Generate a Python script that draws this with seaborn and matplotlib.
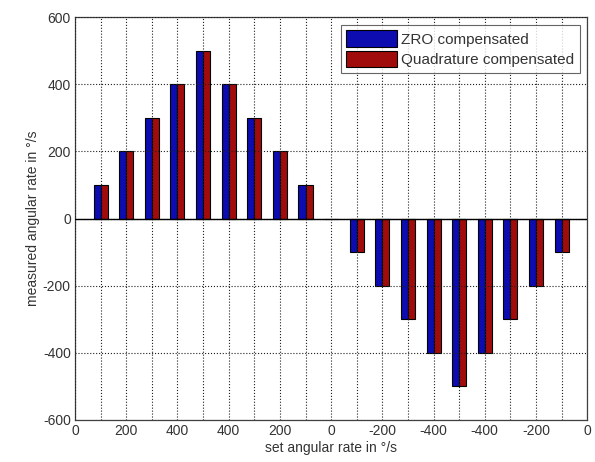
import matplotlib
matplotlib.use("Agg")
import matplotlib.pyplot as plt
import seaborn as sns
import pandas as pd

# set angular rate for each measurement step (deg/s)
set_rates = [100, 200, 300, 400, 500, 400, 300, 200, 100, 0,
             -100, -200, -300, -400, -500, -400, -300, -200, -100]
zro_comp = [100, 200, 300, 400, 500, 400, 300, 200, 100, 0,
            -100, -200, -300, -400, -500, -400, -300, -200, -100]
quad_comp = [100, 200, 300, 400, 500, 400, 300, 200, 100, 0,
             -100, -200, -300, -400, -500, -400, -300, -200, -100]
series_names = ["ZRO compensated", "Quadrature compensated"]
tick_labels = ["0", "200", "400", "400", "200", "0", "-200", "-400", "-400", "-200", "0"]

steps = list(range(1, len(set_rates) + 1))
df = pd.DataFrame({
    "step": steps * 2,
    "rate": zro_comp + quad_comp,
    "series": [series_names[0]] * len(steps) + [series_names[1]] * len(steps),
})

sns.set_style("white")
plt.rcParams["font.family"] = ["Liberation Sans", "DejaVu Sans"]
plt.rcParams["axes.unicode_minus"] = False

fig = plt.figure(figsize=(5.95, 4.62), dpi=100)
ax = fig.add_axes([0.126, 0.091, 0.861, 0.872])

sns.barplot(data=df, x="step", y="rate", hue="series", order=steps,
            palette=["#0c0cb0", "#a00c0c"], saturation=1, width=0.55,
            edgecolor="black", linewidth=0.8, ax=ax, zorder=2)

# categorical positions are step-1, so shift axis to keep step numbers
ax.set_xlim(-1, len(steps))
ax.set_xticks(range(-1, len(steps) + 1))
labels = []
for i in range(len(steps) + 2):
    labels.append(tick_labels[i // 2] if i % 2 == 0 else "")
ax.set_xticklabels(labels)
ax.set_ylim(-600, 600)
ax.set_yticks(range(-600, 601, 200))

# matlab style: dotted grid drawn over the bars
ax.set_axisbelow(False)
ax.grid(True, linestyle=":", color="#202020", linewidth=0.8, zorder=3)
ax.axhline(0, color="black", linewidth=1.0, zorder=4)
for s in ax.spines.values():
    s.set_color("#404040")
    s.set_linewidth(0.9)

ax.tick_params(axis="both", labelsize=10, labelcolor="#333333", length=0, pad=3)
ax.set_xlabel("set angular rate in °/s", fontsize=10, color="#333333", labelpad=2)
ax.set_ylabel("measured angular rate in °/s", fontsize=10, color="#333333", labelpad=2)

leg = ax.legend(loc="upper right", fontsize=11, handlelength=3.3, handleheight=1.3,
                frameon=True, fancybox=False, borderaxespad=0.5, labelspacing=0.25,
                handletextpad=0.3, borderpad=0.35)
leg.get_frame().set_edgecolor("#404040")
leg.get_frame().set_linewidth(0.8)
leg.set_zorder(5)
for t in leg.get_texts():
    t.set_color("#333333")

fig.savefig("out.png", dpi=100)
